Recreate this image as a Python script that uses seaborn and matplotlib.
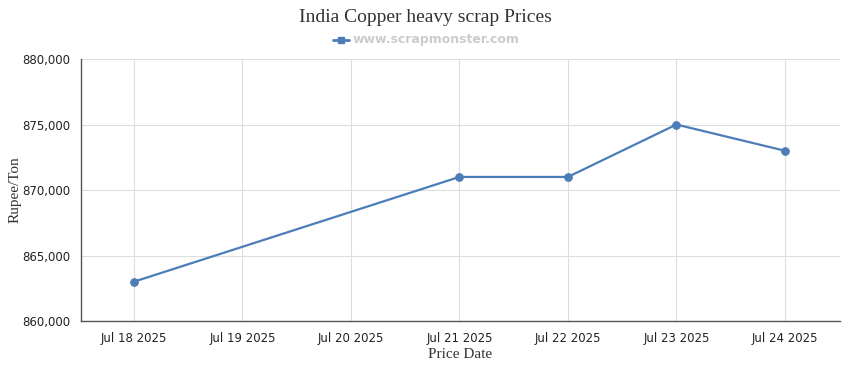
import matplotlib
matplotlib.use("Agg")
import matplotlib.pyplot as plt
import seaborn as sns
import pandas as pd

dates = ["2025-07-18", "2025-07-21", "2025-07-22", "2025-07-23", "2025-07-24"]
prices = [863000, 871000, 871000, 875000, 873000]
tick_dates = ["2025-07-18", "2025-07-19", "2025-07-20", "2025-07-21",
              "2025-07-22", "2025-07-23", "2025-07-24"]
tick_labels = ["Jul 18 2025", "Jul 19 2025", "Jul 20 2025", "Jul 21 2025",
               "Jul 22 2025", "Jul 23 2025", "Jul 24 2025"]
y_ticks = [860000, 865000, 870000, 875000, 880000]

df = pd.DataFrame({"date": pd.to_datetime(dates), "price": prices})

sns.set_style("white")
plt.rcParams['font.family'] = ['DejaVu Sans']

fig = plt.figure(figsize=(8.5, 3.7), dpi=100)
ax = fig.add_axes([0.0953, 0.1324, 0.893, 0.708])

color = "#4c7db8"
sns.lineplot(data=df, x="date", y="price", ax=ax, color=color, linewidth=1.6,
             marker="o", markersize=5.5, markeredgecolor=color, zorder=3)

td = pd.to_datetime(tick_dates)
ax.set_xticks(td)
ax.set_xticklabels(tick_labels, fontsize=8.5, color="#222222")
ax.set_xlim(td[0] - pd.Timedelta(hours=11.7), td[-1] + pd.Timedelta(hours=12.2))
ax.set_ylim(860000, 880000)
ax.set_yticks(y_ticks)
ax.set_yticklabels([f"{v:,}" for v in y_ticks], fontsize=8.5, color="#222222")

ax.grid(True, color="#dddddd", linewidth=0.8)
ax.set_axisbelow(True)
for s in ["top", "right"]:
    ax.spines[s].set_visible(False)
for s in ["left", "bottom"]:
    ax.spines[s].set_color("#555555")
    ax.spines[s].set_linewidth(1.0)
ax.tick_params(axis="both", length=5, width=0.8, color="#555555", pad=3)

ax.set_xlabel("Price Date", fontsize=11, family="Liberation Serif", color="#333333", labelpad=2)
ax.set_ylabel("Rupee/Ton", fontsize=11, family="Liberation Serif", color="#333333", labelpad=0)

fig.text(0.5, 0.953, "India Copper heavy scrap Prices", ha="center", va="center",
         fontsize=14, family="Liberation Serif", color="#333333")
# legend
fig.add_artist(plt.Line2D([0.392, 0.41], [0.892, 0.892], color=color, linewidth=2,
                          transform=fig.transFigure))
fig.add_artist(plt.Line2D([0.401], [0.892], color=color, marker="s", markersize=5,
                          transform=fig.transFigure))
fig.text(0.415, 0.892, "www.scrapmonster.com", ha="left", va="center",
         fontsize=9, fontweight="bold", color="#cccccc")

fig.savefig("out.png", dpi=100)
